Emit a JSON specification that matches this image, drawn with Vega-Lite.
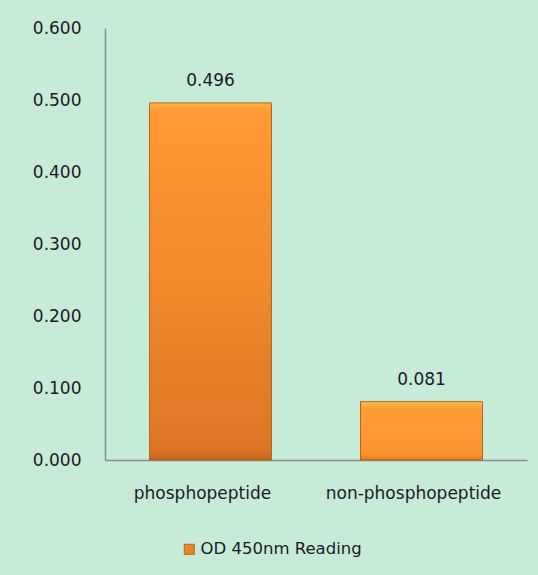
{
  "$schema": "https://vega.github.io/schema/vega-lite/v6.json",
  "width": 422,
  "height": 432,
  "autosize": {"type": "none"},
  "padding": {"left": 105, "top": 28, "right": 11, "bottom": 115},
  "background": "#c6ecd8",
  "config": {
    "view": {"stroke": null},
    "font": "DejaVu Sans",
    "axis": {"labelFont": "DejaVu Sans", "labelFontSize": 17, "labelColor": "#1a1a28", "domainColor": "#8c8c8c", "domainWidth": 1.5, "ticks": false, "grid": false, "title": null}
  },
  "data": {
    "values": [
      {"sample": "phosphopeptide", "value": 0.496, "series": "OD 450nm Reading"},
      {"sample": "non-phosphopeptide", "value": 0.081, "series": "OD 450nm Reading"}
    ]
  },
  "encoding": {
    "x": {
      "field": "sample",
      "type": "nominal",
      "sort": null,
      "scale": {"paddingInner": 0.422, "paddingOuter": 0.211},
      "axis": {"labelAngle": 0, "labelPadding": 25, "labelOffset": -8}
    },
    "y": {
      "field": "value",
      "type": "quantitative",
      "scale": {"domain": [0, 0.6], "nice": false},
      "axis": {"values": [0, 0.1, 0.2, 0.3, 0.4, 0.5, 0.6], "format": ".3f", "labelPadding": 24, "domain": true}
    }
  },
  "layer": [
    {
      "mark": {"type": "bar"},
      "encoding": {
        "color": {
          "field": "series",
          "type": "nominal",
          "scale": {"range": ["#e8852a"]},
          "legend": {
            "title": null,
            "orient": "none",
            "legendX": 76,
            "legendY": 513,
            "symbolType": "square",
            "symbolSize": 100,
            "symbolStrokeColor": "#b5601c",
            "symbolStrokeWidth": 1,
            "labelFontSize": 16.5,
            "labelFont": "DejaVu Sans",
            "labelColor": "#1a1a28",
            "labelOffset": 3,
            "labelLimit": 400
          }
        }
      }
    },
    {
      "mark": {
        "type": "bar",
        "stroke": "#b8621e",
        "strokeWidth": 1
      },
      "encoding": {
        "fill": {
          "condition": {
            "test": "datum.value < 0.3",
            "value": {
              "x1": 0, "y1": 0, "x2": 0, "y2": 1,
              "gradient": "linear",
              "stops": [
                {"offset": 0, "color": "#ffc050"},
                {"offset": 0.12, "color": "#ff9d35"},
                {"offset": 0.9, "color": "#fb9430"},
                {"offset": 1, "color": "#e07a26"}
              ]
            }
          },
          "value": {
            "x1": 0, "y1": 0, "x2": 0, "y2": 1,
            "gradient": "linear",
            "stops": [
              {"offset": 0, "color": "#ffb347"},
              {"offset": 0.025, "color": "#ff9a33"},
              {"offset": 0.5, "color": "#f08a2c"},
              {"offset": 0.97, "color": "#dc7624"},
              {"offset": 1, "color": "#c4661c"}
            ]
          }
        }
      }
    },
    {
      "mark": {"type": "text", "baseline": "bottom", "dy": -13, "fontSize": 17, "font": "DejaVu Sans", "color": "#1a1a28"},
      "encoding": {
        "text": {"field": "value", "type": "quantitative", "format": ".3f"}
      }
    }
  ]
}
